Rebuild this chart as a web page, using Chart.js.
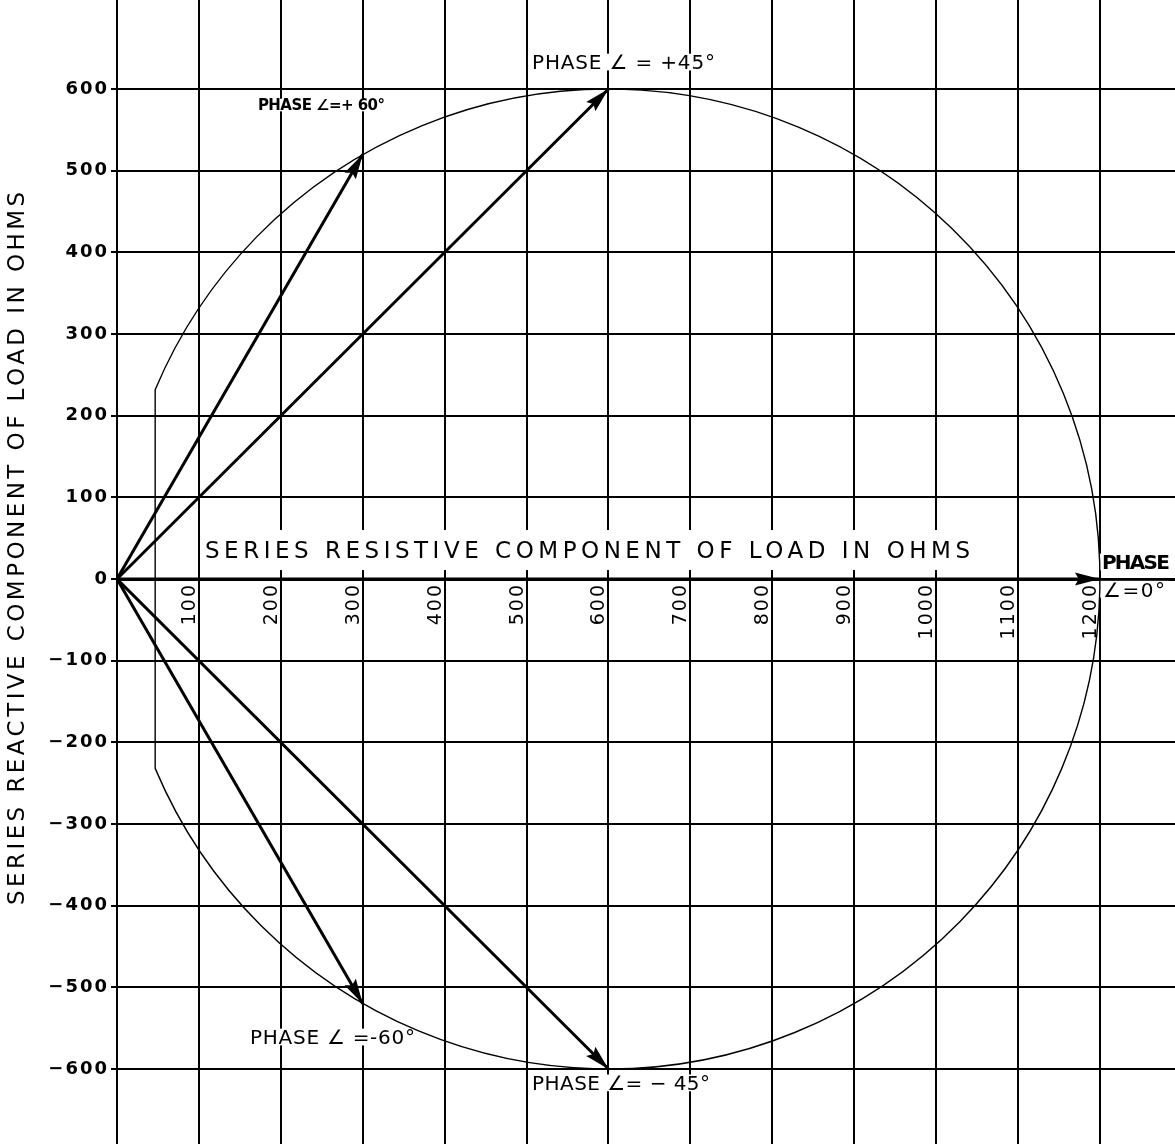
<!DOCTYPE html>
<html>
<head>
<meta charset="utf-8">
<script src="https://cdn.jsdelivr.net/npm/chart.js@4/dist/chart.umd.min.js"></script>
<style>
  html, body { margin: 0; padding: 0; background: #ffffff; }
  canvas { display: block; }
</style>
</head>
<body>
<canvas id="chart" width="1175" height="1144"></canvas>
<script>
// Axis ticks (ohms)
const xTickValues = [0, 100, 200, 300, 400, 500, 600, 700, 800, 900, 1000, 1100, 1200];
const xTickLabels = ['', '100', '200', '300', '400', '500', '600', '700', '800', '900', '1000', '1100', '1200'];
const yTickValues = [-600, -500, -400, -300, -200, -100, 0, 100, 200, 300, 400, 500, 600];
const yTickLabels = ['\u2212600', '\u2212500', '\u2212400', '\u2212300', '\u2212200', '\u2212100', '0', '100', '200', '300', '400', '500', '600'];

// Locus of the load impedance: circle through the origin
const circleCenter = [600, 0];
const circleRadius = 600;
const circleChordR = 46.6;   // left side of the locus is closed by a straight chord here

// Phase vectors drawn from the origin
const phaseNames = ['+60', '+45', '0', '\u221245', '\u221260'];
const tipResistive = [300, 600, 1200, 600, 300];
const tipReactive = [520, 600, 0, -600, -520];

// Captions
const xTitle = 'SERIES RESISTIVE COMPONENT OF LOAD IN OHMS';
const yTitle = 'SERIES REACTIVE COMPONENT OF LOAD IN OHMS';
const phaseCaptions = [
  'PHASE \u2220=+ 60\u00B0',
  'PHASE \u2220 = +45\u00B0',
  'PHASE',
  '\u2220=0\u00B0',
  'PHASE \u2220= \u2212 45\u00B0',
  'PHASE \u2220 =-60\u00B0'
];

const FONT = "'DejaVu Sans', 'Liberation Sans', sans-serif";
const INK = '#000000';

// caption placement: left edge / vertical centre in axis units, width in axis units
const captionLayout = [
  { r: 172,    x: 580.4, w: 155,   size: 15, weight: 'bold' },
  { r: 506.6,  x: 633,   w: 223.4, size: 20, weight: 'normal' },
  { r: 1202.4, x: 20.8,  w: 83,    size: 20, weight: 'bold' },
  { r: 1203.6, x: -12.5, w: 75.7,  size: 20, weight: 'normal' },
  { r: 506.6,  x: -617,  w: 217.3, size: 20, weight: 'normal' },
  { r: 162.4,  x: -560.8, w: 201.4, size: 20, weight: 'normal' }
];

function spacedText(ctx, text, left, centerY, width, size, weight) {
  ctx.save();
  ctx.font = weight + ' ' + size + 'px ' + FONT;
  ctx.letterSpacing = '0px';
  const plain = ctx.measureText(text).width;
  const n = Array.from(text).length;
  const gap = n > 1 ? (width - plain) / (n - 1) : 0;
  ctx.letterSpacing = gap.toFixed(2) + 'px';
  ctx.fillStyle = INK;
  ctx.textAlign = 'left';
  ctx.textBaseline = 'alphabetic';
  ctx.fillText(text, left, centerY + size * 0.729 / 2);
  ctx.restore();
}

const scaleLetterSpacing = {
  id: 'scaleLetterSpacing',
  beforeDraw(chart) { chart.ctx.letterSpacing = '2px'; },
  beforeDatasetsDraw(chart) { chart.ctx.letterSpacing = '0px'; }
};

// knock-out boxes behind captions, then the impedance circle
const locus = {
  id: 'locus',
  beforeDatasetsDraw(chart) {
    const ctx = chart.ctx;
    const xs = chart.scales.x, ys = chart.scales.y;
    ctx.save();
    ctx.fillStyle = '#ffffff';
    // box behind the x-axis caption
    ctx.fillRect(xs.getPixelForValue(103.8), ys.getPixelForValue(60),
                 xs.getPixelForValue(1051) - xs.getPixelForValue(103.8),
                 ys.getPixelForValue(11) - ys.getPixelForValue(60));
    captionLayout.forEach(c => {
      const l = xs.getPixelForValue(c.r) - 4;
      const w = xs.getPixelForValue(c.r + c.w) - xs.getPixelForValue(c.r) + 8;
      const cy = ys.getPixelForValue(c.x);
      ctx.fillRect(l, cy - c.size * 0.42, w, c.size * 0.84);
    });

    const cx = xs.getPixelForValue(circleCenter[0]);
    const cy = ys.getPixelForValue(circleCenter[1]);
    const rx = xs.getPixelForValue(circleCenter[0] + circleRadius) - cx;
    const ry = cy - ys.getPixelForValue(circleCenter[1] + circleRadius);
    const a = Math.acos((circleChordR - circleCenter[0]) / circleRadius);
    ctx.beginPath();
    ctx.ellipse(cx, cy, rx, ry, 0, -a, a, false);
    ctx.closePath();
    ctx.strokeStyle = INK;
    ctx.lineWidth = 1.4;
    ctx.stroke();
    ctx.restore();
  }
};

const arrowHeads = {
  id: 'arrowHeads',
  afterDatasetsDraw(chart) {
    const ctx = chart.ctx;
    ctx.save();
    ctx.fillStyle = INK;
    chart.data.datasets.forEach((ds, i) => {
      const pts = chart.getDatasetMeta(i).data;
      const p0 = pts[0], p1 = pts[pts.length - 1];
      const ang = Math.atan2(p1.y - p0.y, p1.x - p0.x);
      const len = 25, half = 6.5;
      ctx.save();
      ctx.translate(p1.x, p1.y);
      ctx.rotate(ang);
      ctx.beginPath();
      ctx.moveTo(0, 0);
      ctx.lineTo(-len, -half);
      ctx.lineTo(-len * 0.85, 0);
      ctx.lineTo(-len, half);
      ctx.closePath();
      ctx.fill();
      ctx.restore();
    });
    ctx.restore();
  }
};

const captions = {
  id: 'captions',
  afterDraw(chart) {
    const ctx = chart.ctx;
    const xs = chart.scales.x, ys = chart.scales.y;
    captionLayout.forEach((c, i) => {
      const l = xs.getPixelForValue(c.r);
      const w = xs.getPixelForValue(c.r + c.w) - l;
      spacedText(ctx, phaseCaptions[i], l, ys.getPixelForValue(c.x), w, c.size, c.weight);
    });
    // x-axis caption sits just above the resistive axis
    const xl = xs.getPixelForValue(107.4);
    spacedText(ctx, xTitle, xl, ys.getPixelForValue(35.5), xs.getPixelForValue(1041.3) - xl, 23, 'normal');
    // y-axis caption, rotated
    ctx.save();
    ctx.translate(16, ys.getPixelForValue(37.3));
    ctx.rotate(-Math.PI / 2);
    spacedText(ctx, yTitle, -356.5, 0, 713, 23, 'normal');
    ctx.restore();
  }
};

const datasets = phaseNames.map((name, i) => ({
  label: 'Phase ' + name + '\u00B0',
  data: [{ x: 0, y: 0 }, { x: tipResistive[i], y: tipReactive[i] }],
  showLine: true,
  borderColor: INK,
  borderWidth: 3,
  pointRadius: 0,
  fill: false
}));

new Chart(document.getElementById('chart').getContext('2d'), {
  type: 'scatter',
  data: { datasets },
  options: {
    responsive: false,
    animation: false,
    devicePixelRatio: 1,
    layout: { padding: 0 },
    plugins: { legend: { display: false }, tooltip: { enabled: false } },
    scales: {
      x: {
        type: 'linear',
        min: 0,
        max: 1291.6,
        position: { y: 0 },
        afterBuildTicks: s => { s.ticks = xTickValues.map(v => ({ value: v })); },
        afterFit: s => { s.paddingLeft = 0; s.paddingRight = 0; },
        ticks: {
          callback: v => xTickLabels[xTickValues.indexOf(v)],
          color: INK,
          font: { family: FONT, size: 19 },
          minRotation: 90,
          maxRotation: 90,
          autoSkip: false,
          padding: 4,
          labelOffset: -9
        },
        grid: { color: INK, lineWidth: 2, drawTicks: false },
        border: { color: INK, width: 3 }
      },
      y: {
        type: 'linear',
        min: -691.8,
        max: 709,
        position: 'left',
        afterBuildTicks: s => { s.ticks = yTickValues.map(v => ({ value: v })); },
        afterFit: s => { s.width = 117; s.paddingTop = 0; s.paddingBottom = 0; },
        ticks: {
          callback: v => yTickLabels[yTickValues.indexOf(v)],
          color: INK,
          font: { family: FONT, size: 18, weight: 'bold' },
          padding: 2
        },
        grid: { color: INK, lineWidth: 2, tickLength: 6 },
        border: { color: INK, width: 2 }
      }
    }
  },
  plugins: [scaleLetterSpacing, locus, arrowHeads, captions]
});
</script>
</body>
</html>
